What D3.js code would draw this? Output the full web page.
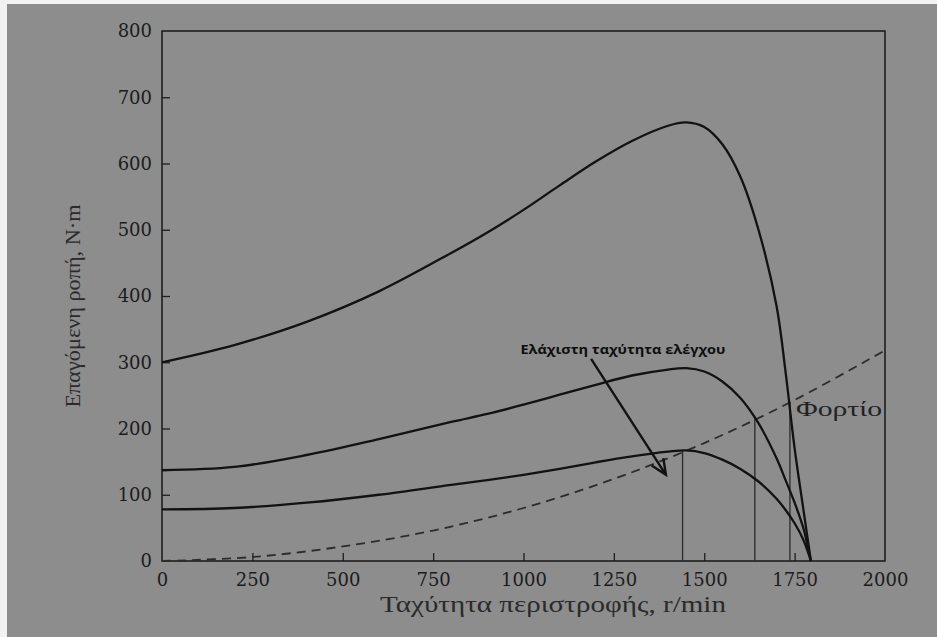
<!DOCTYPE html>
<html>
<head>
<meta charset="utf-8">
<script src="https://cdn.jsdelivr.net/npm/d3@7.9.0/dist/d3.min.js"></script>
<style>
  html, body { margin: 0; padding: 0; background: #f2f2f2; }
  svg { display: block; }
</style>
</head>
<body>
<svg id="chart" width="937" height="637"></svg>
<script>
// speed axis (r/min) shared by the three motor curves
const speeds = [0, 200, 400, 600, 800, 900, 1000, 1100, 1200, 1300, 1400, 1450, 1500, 1550, 1600, 1650, 1700, 1725, 1750, 1775, 1795];
const torqueHigh = [300, 326, 361, 407, 465, 496, 530, 567, 603, 634, 657, 662, 655, 629, 580, 500, 385, 285, 170, 75, 0];
const torqueMid  = [137, 142, 160, 184, 210, 222, 236, 251, 266, 280, 289, 291, 286, 271, 246, 208, 155, 122, 88, 48, 0];
const torqueLow  = [78, 80, 88, 100, 115, 122, 130, 139, 149, 158, 165, 167, 163, 153, 139, 120, 94, 77, 57, 31, 0];

// load curve (dashed)
const loadSpeeds = [0, 250, 500, 750, 1000, 1250, 1500, 1750, 2000];
const loadTorque = [0, 6, 22, 46, 80, 124, 178, 243, 318];

// operating points: vertical drop lines
const opSpeeds = [1440, 1640, 1737];
const opTorque = [166, 215, 240];

const xTicks = [0, 250, 500, 750, 1000, 1250, 1500, 1750, 2000];
const yTicks = [0, 100, 200, 300, 400, 500, 600, 700, 800];

const svg = d3.select('#chart');

// scanned page background
svg.append('rect')
  .attr('x', 7).attr('y', 4)
  .attr('width', 930).attr('height', 633)
  .attr('fill', '#8d8d8d');

const x = d3.scaleLinear().domain([0, 2000]).range([162, 885]);
const y = d3.scaleLinear().domain([0, 800]).range([561, 31]);

const ink = '#121212';

// frame
svg.append('rect')
  .attr('x', x(0)).attr('y', y(800))
  .attr('width', x(2000) - x(0)).attr('height', y(0) - y(800))
  .attr('fill', 'none')
  .attr('stroke', '#1e1e1e')
  .attr('stroke-width', 1.6);

// y axis: inward ticks
const yAxis = d3.axisLeft(y).tickValues(yTicks).tickSize(-8).tickPadding(8).tickFormat(d3.format('d'));
const gy = svg.append('g').attr('transform', `translate(${x(0)},0)`).call(yAxis);
gy.select('.domain').remove();
gy.selectAll('line').attr('stroke', '#1e1e1e').attr('stroke-width', 1.3)
  .filter(d => d === 0 || d === 800).remove();
gy.selectAll('text')
  .attr('font-family', '"DejaVu Serif", serif')
  .attr('font-size', 18)
  .attr('fill', '#1c1c1c')
  .attr('x', -10);

// x axis: inward ticks
const xAxis = d3.axisBottom(x).tickValues(xTicks).tickSize(-8).tickPadding(10).tickFormat(d3.format('d'));
const gx = svg.append('g').attr('transform', `translate(0,${y(0)})`).call(xAxis);
gx.select('.domain').remove();
gx.selectAll('line').attr('stroke', '#1e1e1e').attr('stroke-width', 1.3)
  .filter(d => d === 0 || d === 2000).remove();
gx.selectAll('text')
  .attr('font-family', '"DejaVu Serif", serif')
  .attr('font-size', 18)
  .attr('fill', '#1c1c1c')
  .attr('dy', '0.85em');

// axis titles
svg.append('text')
  .attr('x', 553).attr('y', 612)
  .attr('text-anchor', 'middle')
  .attr('font-family', '"Liberation Serif", serif')
  .attr('font-size', 23)
  .attr('fill', '#2a2a2a')
  .attr('textLength', 346)
  .attr('lengthAdjust', 'spacingAndGlyphs')
  .text('Ταχύτητα περιστροφής, r/min');

svg.append('text')
  .attr('transform', 'translate(80,306) rotate(-90)')
  .attr('text-anchor', 'middle')
  .attr('font-family', '"Liberation Serif", serif')
  .attr('font-size', 22)
  .attr('fill', '#2a2a2a')
  .attr('textLength', 203)
  .attr('lengthAdjust', 'spacingAndGlyphs')
  .text('Επαγόμενη ροπή, N·m');

// load curve
const loadLine = d3.line()
  .x((d, i) => x(loadSpeeds[i]))
  .y(d => y(d))
  .curve(d3.curveCatmullRom.alpha(0.5));

svg.append('path')
  .attr('d', loadLine(loadTorque))
  .attr('fill', 'none')
  .attr('stroke', '#2c2c2c')
  .attr('stroke-width', 1.8)
  .attr('stroke-dasharray', '9,6');

// vertical lines at operating points
svg.selectAll('line.op')
  .data(opSpeeds)
  .enter()
  .append('line')
  .attr('class', 'op')
  .attr('x1', d => x(d)).attr('x2', d => x(d))
  .attr('y1', (d, i) => y(opTorque[i]))
  .attr('y2', y(0))
  .attr('stroke', '#2a2a2a')
  .attr('stroke-width', 1.3);

// torque-speed curves
const motorLine = d3.line()
  .x((d, i) => x(speeds[i]))
  .y(d => y(d))
  .curve(d3.curveCatmullRom.alpha(0.5));

svg.selectAll('path.motor')
  .data([torqueHigh, torqueMid, torqueLow])
  .enter()
  .append('path')
  .attr('class', 'motor')
  .attr('d', motorLine)
  .attr('fill', 'none')
  .attr('stroke', ink)
  .attr('stroke-width', 2.3);

// "Φορτίο" label
svg.append('text')
  .attr('x', x(1754)).attr('y', y(219))
  .attr('font-family', '"Liberation Serif", serif')
  .attr('font-size', 22)
  .attr('fill', '#222')
  .attr('textLength', 86)
  .attr('lengthAdjust', 'spacingAndGlyphs')
  .text('Φορτίο');

// annotation with arrow
svg.append('text')
  .attr('x', x(1275)).attr('y', y(312))
  .attr('text-anchor', 'middle')
  .attr('font-family', '"Open Sans", sans-serif')
  .attr('font-weight', 'bold')
  .attr('font-size', 13)
  .attr('fill', '#0e0e0e')
  .attr('textLength', 205)
  .attr('lengthAdjust', 'spacingAndGlyphs')
  .text('Ελάχιστη ταχύτητα ελέγχου');

const arrowFrom = [1187, 305];
const arrowTo = [1394, 130];
const ax1 = x(arrowFrom[0]), ay1 = y(arrowFrom[1]);
const ax2 = x(arrowTo[0]), ay2 = y(arrowTo[1]);
const ang = Math.atan2(ay2 - ay1, ax2 - ax1);
const head = 17, spread = 0.42;

svg.append('line')
  .attr('x1', ax1).attr('y1', ay1)
  .attr('x2', ax2).attr('y2', ay2)
  .attr('stroke', ink)
  .attr('stroke-width', 2.4);

svg.append('path')
  .attr('d', `M${ax2 - head * Math.cos(ang - spread)},${ay2 - head * Math.sin(ang - spread)}`
    + `L${ax2},${ay2}`
    + `L${ax2 - head * Math.cos(ang + spread)},${ay2 - head * Math.sin(ang + spread)}`)
  .attr('fill', 'none')
  .attr('stroke', ink)
  .attr('stroke-width', 2.4);
</script>
</body>
</html>
